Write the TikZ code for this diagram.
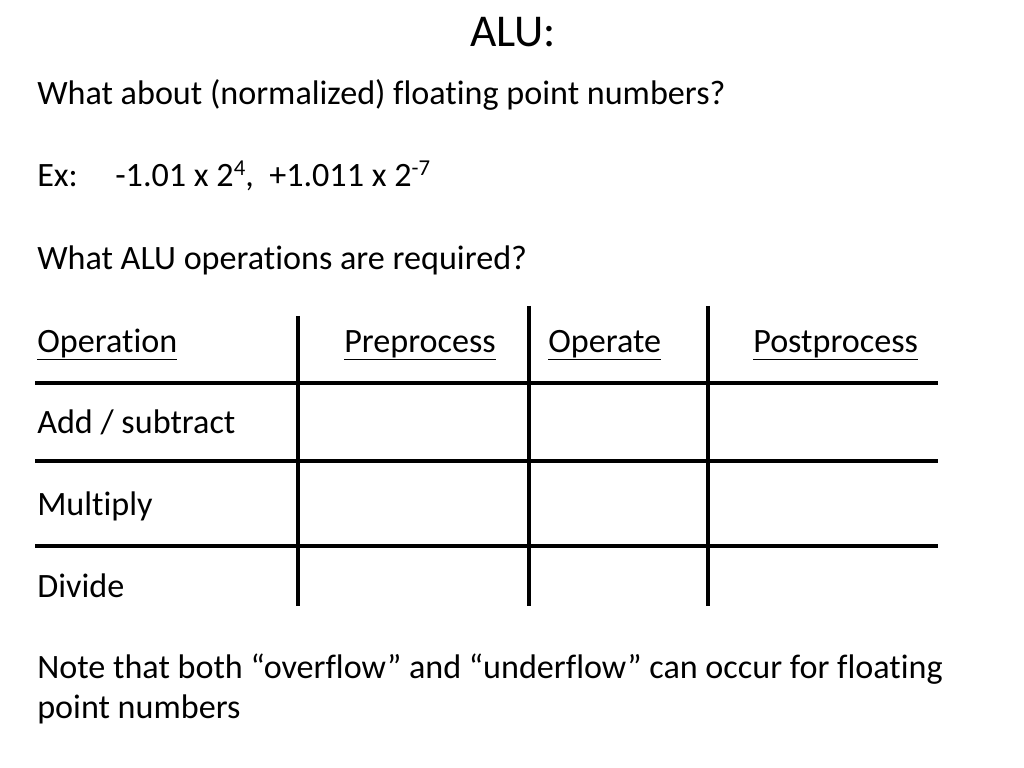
\documentclass[tikz,border=0pt]{standalone}
\usepackage{fontspec}
\setmainfont{Carlito}[Ligatures=NoCommon]
\newcommand{\supx}[1]{\raisebox{0.33em}{\fontsize{16}{16}\selectfont #1}}
\begin{document}
\begin{tikzpicture}[x=0.703125pt,y=-0.703125pt,
  body/.style={anchor=base west,inner sep=0pt,font=\fontsize{24}{29}\selectfont},
  ttl/.style={anchor=base,inner sep=0pt,font=\fontsize{32}{38}\selectfont},
  rule/.style={line width=2.2pt,line cap=butt}]
\useasboundingbox (0,0) rectangle (1024,768);
\node[ttl] (title) at (513,47) {ALU:};
\node[body] (q1) at (37,105) {What about (normalized) floating point numbers?};
\node[body] (ex) at (37,187) {Ex:};
\node[body] (exv) at (115,187) {-1.01 x 2\supx{4},~ +1.011 x 2\supx{-7}};
\node[body] (q2) at (37,270) {What ALU operations are required?};
\node[body] (h1) at (37,352) {\underline{Operation}};
\node[body] (h2) at (344,352) {\underline{Preprocess}};
\node[body] (h3) at (548,352) {\underline{Operate}};
\node[body] (h4) at (753,352) {\underline{Postprocess}};
\node[body] (r1) at (37,433) {Add / subtract};
\node[body] (r2) at (37,515) {Multiply};
\node[body] (r3) at (37,597) {Divide};
\node[body] (n1) at (37,678) {Note that both “overflow” and “underflow” can occur for floating};
\node[body] (n2) at (37,718) {point numbers};
% table rules
\draw[rule] (35,383) -- (938,383);
\draw[rule] (35,461) -- (938,461);
\draw[rule] (35,546) -- (938,546);
\draw[rule] (298,316) -- (298,606);
\draw[rule] (529,306) -- (529,606);
\draw[rule] (708,306) -- (708,606);
\end{tikzpicture}
\end{document}
